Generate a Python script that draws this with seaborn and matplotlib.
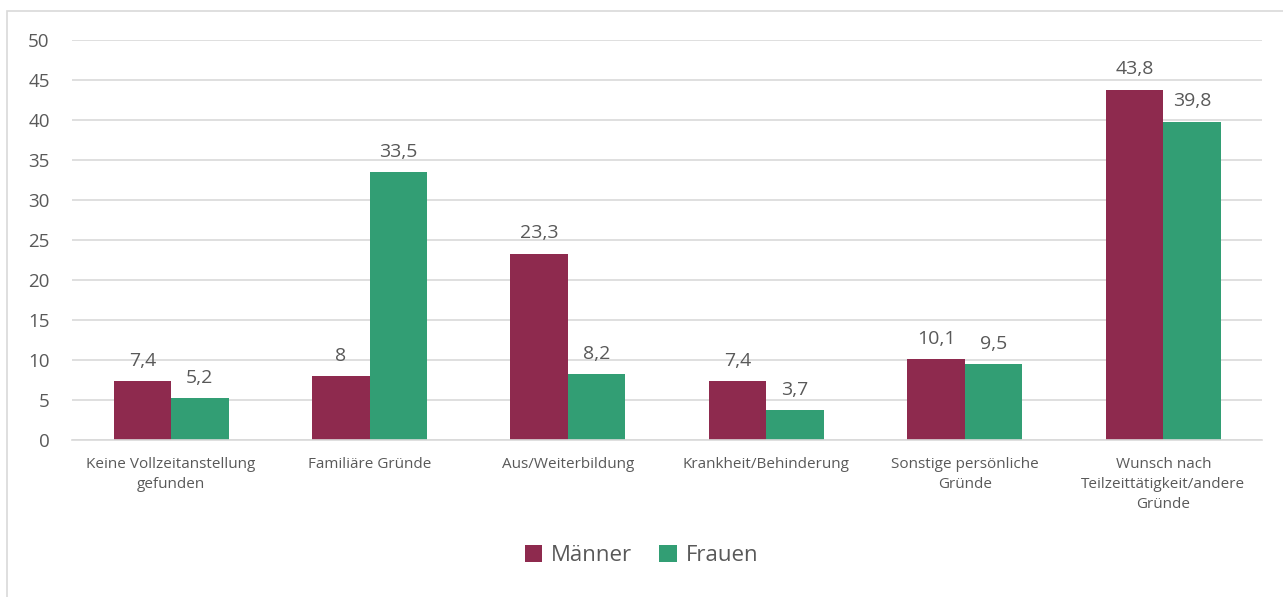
import pandas as pd
import matplotlib
matplotlib.use("Agg")
import matplotlib.pyplot as plt
import seaborn as sns
from matplotlib.patches import Rectangle

# Daten
kategorien = [
    "Keine Vollzeitanstellung\ngefunden",
    "Familiäre Gründe",
    "Aus/Weiterbildung",
    "Krankheit/Behinderung",
    "Sonstige persönliche\nGründe",
    "Wunsch nach\nTeilzeittätigkeit/andere\nGründe",
]
maenner = [7.4, 8.0, 23.3, 7.4, 10.1, 43.8]
frauen = [5.2, 33.5, 8.2, 3.7, 9.5, 39.8]
gruppen = ["Männer", "Frauen"]
farben = {"Männer": "#8E2A4E", "Frauen": "#329E74"}
y_ticks = [0, 5, 10, 15, 20, 25, 30, 35, 40, 45, 50]

df = pd.DataFrame({
    "Kategorie": kategorien * 2,
    "Geschlecht": ["Männer"] * len(kategorien) + ["Frauen"] * len(kategorien),
    "Wert": maenner + frauen,
})

sns.set_style("white")
plt.rcParams["font.family"] = ["Open Sans", "DejaVu Sans"]
text_farbe = "#595959"

fig = plt.figure(figsize=(12.83, 5.97), dpi=100)
ax = fig.add_axes([0.056, 0.263, 0.928, 0.67])

sns.barplot(data=df, x="Kategorie", y="Wert", hue="Geschlecht",
            hue_order=gruppen, palette=farben, width=0.58,
            saturation=1, linewidth=0, ax=ax, legend=True)

for cont in ax.containers:
    labels = [f"{v:g}".replace(".", ",") for v in cont.datavalues]
    ax.bar_label(cont, labels=labels, padding=8, fontsize=14, color=text_farbe)

ax.set_ylim(0, 50)
ax.set_yticks(y_ticks)
ax.yaxis.grid(True, color="#D9D9D9", linewidth=1.2)
ax.set_axisbelow(True)
for s in ["top", "right", "left"]:
    ax.spines[s].set_visible(False)
ax.spines["bottom"].set_color("#D9D9D9")
ax.spines["bottom"].set_linewidth(1.2)
ax.tick_params(axis="y", length=0, labelsize=13.5, labelcolor=text_farbe, pad=16)
ax.tick_params(axis="x", length=0, labelsize=11, labelcolor=text_farbe, pad=12)
for t in ax.get_xticklabels():
    t.set_linespacing(1.45)
ax.set_xlabel("")
ax.set_ylabel("")

# Legende unten
handles, labs = ax.get_legend_handles_labels()
ax.get_legend().remove()
fig.legend(handles, labs, loc="center", bbox_to_anchor=(0.5, 0.07), ncol=2,
           frameon=False, fontsize=16, labelcolor=text_farbe,
           handlelength=0.8, handleheight=0.8, handletextpad=0.4, columnspacing=1.2)

# Rahmen um das Diagramm
fig.patches.append(Rectangle((7 / 1283, -0.01), 1.1, 1 - 11 / 597 + 0.01,
                             transform=fig.transFigure, fill=False,
                             edgecolor="#D9D9D9", linewidth=1.2))

fig.savefig("out.png", dpi=100)
plt.close(fig)
